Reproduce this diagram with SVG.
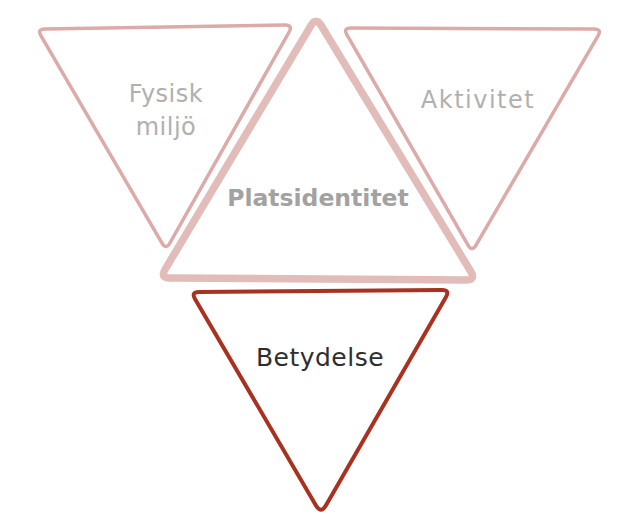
<svg xmlns="http://www.w3.org/2000/svg" width="619" height="521" viewBox="0 0 619 521">
<style>
.side{fill:none;stroke:#dcaaa8;stroke-width:3.5;stroke-linejoin:round}
.mid{fill:none;stroke:#e2bcb8;stroke-width:7.5;stroke-linejoin:round}
.bot{fill:none;stroke:#a8321f;stroke-width:4;stroke-linejoin:round}
.lbl{font-family:"DejaVu Sans","Noto Sans",sans-serif;text-anchor:middle}
.light{fill:#b0b0b0;font-size:24px}
.bold{fill:#a2a2a2;font-size:23.5px;font-weight:bold}
.dark{fill:#2e2e2e;font-size:25px}
</style>
<rect width="619" height="521" fill="#ffffff"/>
<g id="connectors"></g>
<g id="fysisk">
<path class="side" d="M45,28.9 L285,25.1 Q293,25 289.1,32 L169.9,243 Q166,250 162,243.1 L41,35.9 Q37,29 45,28.9 Z"/>
<text class="lbl light" x="166" y="102" letter-spacing="0.5">Fysisk</text>
<text class="lbl light" x="166" y="135" letter-spacing="0.5">miljö</text>
</g>
<g id="aktivitet">
<path class="side" d="M351,28.03 L594,28.97 Q602,29 598,35.9 L476,245.1 Q472,252 468,245.1 L347,34.9 Q343,28 351,28.03 Z"/>
<text class="lbl light" x="478" y="108" letter-spacing="1.5">Aktivitet</text>
</g>
<g id="platsidentitet">
<path class="mid" d="M321.2,25.5 Q316,17 310.9,25.6 L165.1,269.4 Q160,278 170,278.06 L466,279.94 Q476,280 470.8,271.5 Z"/>
<text class="lbl bold" x="318" y="206">Platsidentitet</text>
</g>
<g id="betydelse">
<path class="bot" d="M199,291.94 L442,290.06 Q450,290 446,296.9 L326,505.3 Q321,514 315.95,505.4 L195,298.9 Q191,292 199,291.94 Z"/>
<text class="lbl dark" x="320" y="366" letter-spacing="0.5">Betydelse</text>
</g>
</svg>
